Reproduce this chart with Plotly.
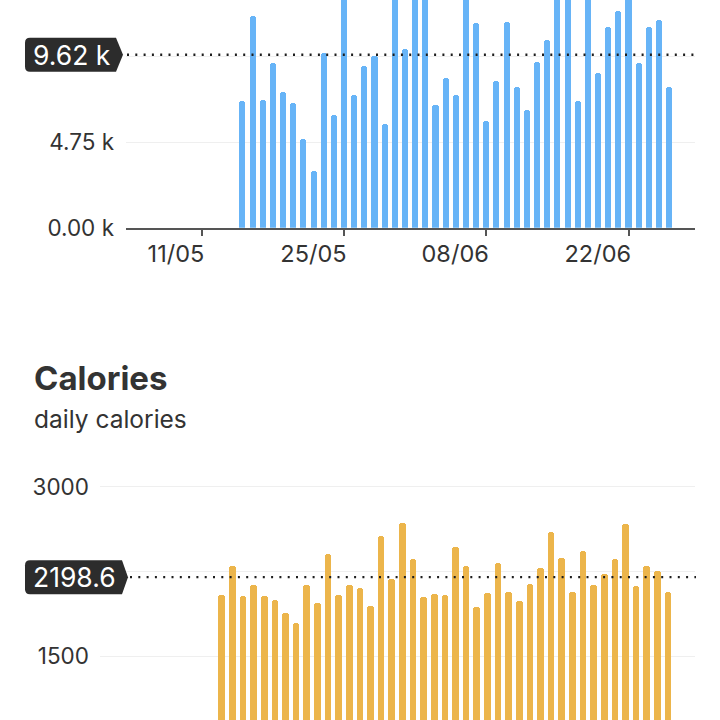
import pandas as pd
import plotly.graph_objects as go

# ---------------- data ----------------
start_date = "2023-05-15"
end_date = "2023-06-26"
dates = pd.date_range(start_date, end_date, freq="D")

steps = [7060, 11750, 7090, 9180, 7560, 6910, 4950, 3150, 9700, 6260,
         14200, 7370, 8990, 9550, 5750, 13800, 9930, 14500, 13600, 6820,
         8310, 7370, 15100, 11380, 5920, 8170, 11440, 7800, 6540, 9240,
         10430, 13900, 14400, 7040, 13500, 8600, 11160, 12050, 13500, 9140,
         11160, 11540, 7840]

calories = [2038, 2297, 2029, 2126, 2029, 1994, 1877, 1789, 2133, 1974,
            2400, 2044, 2129, 2106, 1941, 2565, 2186, 2676, 2362, 2023,
            2047, 2038, 2465, 2297, 1930, 2059, 2327, 2067, 1985, 2141,
            2279, 2603, 2371, 2067, 2426, 2126, 2230, 2362, 2671, 2120,
            2297, 2253, 2067]

steps_avg = 9620
steps_avg_label = "9.62 k"
cal_avg = 2198.6
cal_avg_label = "2198.6"

steps_tickvals = [0, 4750, 9500]
steps_ticktext = ["0.00 k", "4.75 k", ""]
cal_tickvals = [1500, 2250, 3000]
cal_ticktext = ["1500", "", "3000"]

x_tick0 = "2023-05-11"
x_range = ["2023-05-03 13:00", "2023-06-28 13:00"]

# ---------------- style ----------------
FONT = "Inter"
TXT = "#333333"
BLUE = "#67b4f7"
GOLD = "#ecb54b"
W = 720
H = 720
DAY_MS = 86400000

fig = go.Figure()

fig.add_trace(go.Bar(x=dates, y=steps, xaxis="x", yaxis="y",
                     marker=dict(color=BLUE, line=dict(width=0), cornerradius=3),
                     width=0.6 * DAY_MS, hoverinfo="skip"))
fig.add_trace(go.Bar(x=dates, y=calories, xaxis="x2", yaxis="y2",
                     marker=dict(color=GOLD, line=dict(width=0), cornerradius=3),
                     width=0.62 * DAY_MS, hoverinfo="skip"))

top_bottom_px = 227.7
top_dom = [1 - top_bottom_px / H, 1]
top_x_dom = [126 / W, 695 / W]
px_per_step = (227.7 - 142.3) / 4750
steps_top = top_bottom_px / px_per_step

cal_dom = [0, 1 - 470 / H]
cal_x_dom = [100 / W, 695 / W]
px_per_cal = (656 - 486.7) / 1500
cal_top = 3000 + (486.7 - 470) / px_per_cal
cal_bot = 1500 - (720 - 656) / px_per_cal

y_font = dict(family=FONT, size=22.5, color=TXT)
x_font = dict(family=FONT, size=23.5, color=TXT)

fig.update_layout(
    width=W, height=H,
    margin=dict(l=0, r=0, t=0, b=0, pad=0, autoexpand=False),
    paper_bgcolor="white", plot_bgcolor="white",
    showlegend=False,
    bargap=0,
    xaxis=dict(domain=top_x_dom, anchor="y", type="date", range=x_range,
               tick0=x_tick0, dtick=14 * DAY_MS, tickformat="%d/%m",
               ticks="outside", ticklen=7, tickwidth=1.5, tickcolor="#555",
               ticklabelposition="outside left", automargin=False,
               ticklabelshift=4, ticklabelstandoff=4,
               showline=True, linecolor="#555", linewidth=1.5,
               showgrid=False, zeroline=False, tickfont=x_font),
    yaxis=dict(domain=top_dom, anchor="x", range=[0, steps_top],
               tickvals=steps_tickvals, ticktext=steps_ticktext,
               showgrid=True, gridcolor="#efefef", gridwidth=1,
               zeroline=False, showline=False, ticks="", automargin=False,
               ticklabelstandoff=11, tickfont=y_font),
    xaxis2=dict(domain=cal_x_dom, anchor="y2", type="date", range=x_range,
                visible=False, showgrid=False, zeroline=False, automargin=False),
    yaxis2=dict(domain=cal_dom, anchor="x2", range=[cal_bot, cal_top],
                tickvals=cal_tickvals, ticktext=cal_ticktext,
                showgrid=True, gridcolor="#efefef", gridwidth=1,
                zeroline=False, showline=False, ticks="", automargin=False,
                ticklabelstandoff=10, tickfont=y_font),
)

# average lines + badges
def add_avg(yref, avg, label, x_start, x_end, box_right, tip):
    fig.add_shape(type="line", xref="paper", yref=yref,
                  x0=x_start / W, x1=x_end / W, y0=avg, y1=avg,
                  line=dict(color="#1e1e1e", width=2.3, dash="2px,6.3px"),
                  layer="above")
    path = (f"M 30 17 L {box_right} 17 L {tip} 0 L {box_right} -17 L 30 -17 "
            f"Q 25 -17 25 -12 L 25 12 Q 25 17 30 17 Z")
    fig.add_shape(type="path", xref="paper", yref=yref,
                  xsizemode="pixel", ysizemode="pixel",
                  xanchor=0, yanchor=avg, path=path,
                  fillcolor="#2c2c2c", line=dict(width=0), layer="above")
    fig.add_annotation(xref="paper", yref=yref, x=31 / W, y=avg,
                       xanchor="left", yanchor="middle", showarrow=False,
                       text=label, font=dict(family=FONT, size=26.5, color="white"))

add_avg("y", steps_avg, steps_avg_label, 127, 696, 116, 123)
add_avg("y2", cal_avg, cal_avg_label, 130, 696, 122, 128)

# title & subtitle
fig.add_annotation(xref="paper", yref="paper", x=32 / W, y=1 - 378 / H,
                   xanchor="left", yanchor="middle", showarrow=False,
                   text="<b>Calories</b>", font=dict(family=FONT, size=33, color=TXT))
fig.add_annotation(xref="paper", yref="paper", x=32 / W, y=1 - 419 / H,
                   xanchor="left", yanchor="middle", showarrow=False,
                   text="daily calories", font=dict(family=FONT, size=24.5, color=TXT))

fig.write_html("out.html")
